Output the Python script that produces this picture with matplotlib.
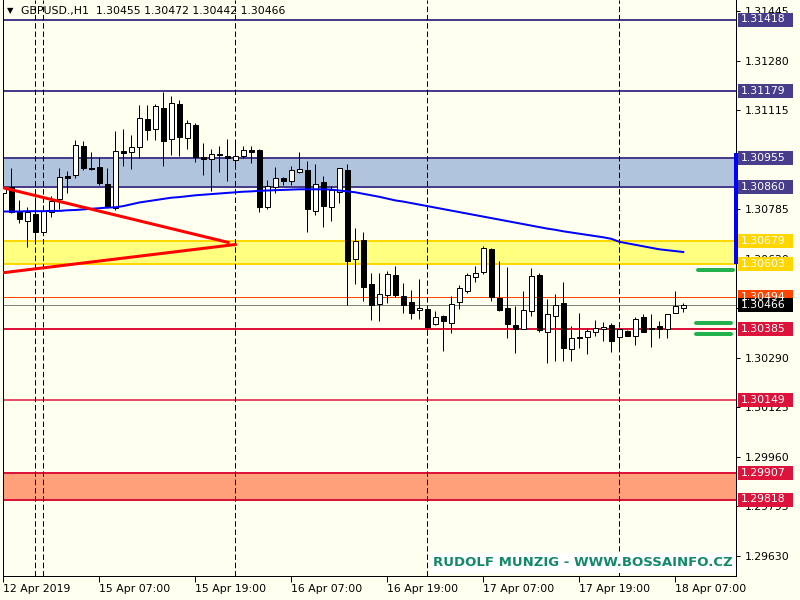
import matplotlib
matplotlib.use("Agg")
import matplotlib.pyplot as plt
import matplotlib.transforms as mtransforms
from matplotlib.patches import Rectangle

# ---------------- data ----------------
chart_title = "GBPUSD.,H1  1.30455 1.30472 1.30442 1.30466"

opens = [1.30839, 1.30861, 1.30776, 1.30748, 1.30770, 1.30711, 1.30778, 1.30819, 1.30897, 1.30899,
         1.30996, 1.30923, 1.30926, 1.30870, 1.30789, 1.30978, 1.30976, 1.30994, 1.31087, 1.31052,
         1.31122, 1.31019, 1.31137, 1.31022, 1.31067, 1.30960, 1.30953, 1.30969, 1.30963, 1.30949,
         1.30964, 1.30982, 1.30983, 1.30792, 1.30861, 1.30889, 1.30879, 1.30909, 1.30917, 1.30781,
         1.30876, 1.30794, 1.30844, 1.30917, 1.30621, 1.30683, 1.30536, 1.30469, 1.30498, 1.30566,
         1.30497, 1.30477, 1.30449, 1.30453, 1.30402, 1.30430, 1.30408, 1.30476, 1.30513, 1.30561,
         1.30578, 1.30653, 1.30489, 1.30456, 1.30399, 1.30386, 1.30447, 1.30567, 1.30378, 1.30431,
         1.30473, 1.30319, 1.30360, 1.30359, 1.30376, 1.30386, 1.30400, 1.30359, 1.30380, 1.30364,
         1.30426, 1.30389, 1.30397, 1.30386, 1.30439, 1.30455]
highs = [1.30919, 1.30924, 1.30817, 1.30792, 1.30822, 1.30800, 1.30828, 1.30924, 1.30913, 1.31017,
         1.31013, 1.30976, 1.30959, 1.30923, 1.31047, 1.31054, 1.31033, 1.31133, 1.31133, 1.31137,
         1.31178, 1.31163, 1.31150, 1.31083, 1.31072, 1.31006, 1.30987, 1.30997, 1.31020, 1.31017,
         1.30997, 1.30997, 1.30987, 1.30883, 1.30926, 1.30894, 1.30928, 1.30976, 1.30947, 1.30937,
         1.30897, 1.30863, 1.30923, 1.30937, 1.30722, 1.30709, 1.30572, 1.30572, 1.30580, 1.30597,
         1.30539, 1.30517, 1.30552, 1.30453, 1.30447, 1.30432, 1.30497, 1.30533, 1.30572, 1.30597,
         1.30664, 1.30656, 1.30613, 1.30594, 1.30463, 1.30513, 1.30591, 1.30574, 1.30487, 1.30503,
         1.30542, 1.30398, 1.30439, 1.30391, 1.30417, 1.30410, 1.30406, 1.30392, 1.30383, 1.30426,
         1.30436, 1.30436, 1.30414, 1.30437, 1.30513, 1.30472]
lows = [1.30761, 1.30774, 1.30739, 1.30658, 1.30669, 1.30709, 1.30759, 1.30787, 1.30841, 1.30891,
        1.30917, 1.30917, 1.30867, 1.30789, 1.30783, 1.30928, 1.30919, 1.30958, 1.31017, 1.31017,
        1.30928, 1.30967, 1.30964, 1.30987, 1.30942, 1.30898, 1.30847, 1.30911, 1.30878, 1.30933,
        1.30958, 1.30941, 1.30778, 1.30787, 1.30839, 1.30867, 1.30867, 1.30906, 1.30711, 1.30767,
        1.30728, 1.30747, 1.30808, 1.30467, 1.30537, 1.30478, 1.30417, 1.30413, 1.30474, 1.30494,
        1.30439, 1.30420, 1.30419, 1.30372, 1.30400, 1.30314, 1.30374, 1.30453, 1.30506, 1.30544,
        1.30570, 1.30478, 1.30447, 1.30358, 1.30308, 1.30386, 1.30428, 1.30378, 1.30274, 1.30278,
        1.30278, 1.30278, 1.30324, 1.30302, 1.30363, 1.30347, 1.30311, 1.30328, 1.30364, 1.30333,
        1.30377, 1.30328, 1.30356, 1.30358, 1.30439, 1.30442]
closes = [1.30861, 1.30778, 1.30753, 1.30776, 1.30708, 1.30778, 1.30814, 1.30894, 1.30891, 1.30999,
          1.30924, 1.30921, 1.30874, 1.30792, 1.30979, 1.30974, 1.30992, 1.31089, 1.31048, 1.31130,
          1.31014, 1.31139, 1.31028, 1.31072, 1.30961, 1.30953, 1.30969, 1.30967, 1.30958, 1.30963,
          1.30982, 1.30978, 1.30792, 1.30862, 1.30889, 1.30881, 1.30917, 1.30919, 1.30788, 1.30870,
          1.30798, 1.30850, 1.30922, 1.30614, 1.30680, 1.30528, 1.30467, 1.30502, 1.30569, 1.30500,
          1.30467, 1.30439, 1.30456, 1.30394, 1.30426, 1.30414, 1.30469, 1.30522, 1.30567, 1.30572,
          1.30656, 1.30494, 1.30448, 1.30403, 1.30388, 1.30450, 1.30563, 1.30383, 1.30436, 1.30466,
          1.30324, 1.30356, 1.30358, 1.30380, 1.30389, 1.30392, 1.30348, 1.30386, 1.30364, 1.30419,
          1.30378, 1.30387, 1.30386, 1.30436, 1.30462, 1.30466]
ma_values = [1.30778, 1.30778, 1.30778, 1.30779, 1.30779, 1.30779, 1.30780, 1.30780, 1.30782, 1.30783,
             1.30785, 1.30787, 1.30789, 1.30791, 1.30792, 1.30796, 1.30802, 1.30808, 1.30812, 1.30816,
             1.30820, 1.30824, 1.30826, 1.30829, 1.30832, 1.30834, 1.30836, 1.30838, 1.30840, 1.30842,
             1.30844, 1.30845, 1.30847, 1.30848, 1.30849, 1.30850, 1.30851, 1.30852, 1.30852, 1.30852,
             1.30852, 1.30851, 1.30848, 1.30845, 1.30842, 1.30837, 1.30832, 1.30827, 1.30821, 1.30815,
             1.30811, 1.30806, 1.30801, 1.30796, 1.30791, 1.30786, 1.30781, 1.30776, 1.30771, 1.30766,
             1.30761, 1.30756, 1.30751, 1.30746, 1.30741, 1.30736, 1.30731, 1.30726, 1.30721, 1.30717,
             1.30712, 1.30708, 1.30704, 1.30700, 1.30696, 1.30692, 1.30687, 1.30677, 1.30672, 1.30667,
             1.30662, 1.30657, 1.30652, 1.30649, 1.30646, 1.30643]

separator_bars = [4, 5, 29, 53, 77]
x_tick_bars = [0, 12, 24, 36, 48, 60, 72, 84]
x_tick_labels = ["12 Apr 2019", "15 Apr 07:00", "15 Apr 19:00", "16 Apr 07:00",
                 "16 Apr 19:00", "17 Apr 07:00", "17 Apr 19:00", "18 Apr 07:00"]
y_tick_values = [1.31445, 1.31280, 1.31115, 1.30950, 1.30785, 1.30620,
                 1.30455, 1.30290, 1.30125, 1.29960, 1.29795, 1.29630]
y_tick_labels = ["1.31445", "1.31280", "1.31115", "", "1.30785", "1.30620",
                 "1.30455", "1.30290", "1.30125", "1.29960", "1.29795", "1.29630"]

navy_levels = [1.31418, 1.31179]
blue_zone = [1.30860, 1.30955]
yellow_zone = [1.30603, 1.30679]
ask_level = 1.30494
bid_level = 1.30466
crimson_levels = [1.30385, 1.30149]
salmon_zone = [1.29818, 1.29907]

trend_down_bars = [0.0, 28.1]
trend_down_prices = [1.30857, 1.30675]
trend_up_bars = [0.0, 29.0]
trend_up_prices = [1.30574, 1.30668]

target_prices = [1.30582, 1.30406, 1.30369]
target_bar_start = [86.8, 86.6, 86.6]
target_bar_end = [91.2, 91.0, 91.0]
range_bar_x = 91.6
range_bar_prices = [1.30611, 1.30967]

price_labels = [
    (1.31418, "#483D8B"), (1.31179, "#483D8B"), (1.30955, "#483D8B"), (1.30860, "#483D8B"),
    (1.30679, "#FFD700"), (1.30603, "#FFD700"), (1.30494, "#FF4500"), (1.30466, "#000000"),
    (1.30385, "#DC143C"), (1.30149, "#DC143C"), (1.29907, "#DC143C"), (1.29818, "#DC143C"),
]
watermark = "RUDOLF MUNZIG - WWW.BOSSAINFO.CZ"

# ---------------- style ----------------
W, H = 800, 600
PX = 0.72  # points per pixel at dpi 100
FS = 7.8
BG = "#FFFFF0"
plt.rcParams["font.family"] = ["DejaVu Sans"]

fig = plt.figure(figsize=(8, 6), dpi=100, facecolor=BG)
ax = fig.add_axes([3 / W, 24 / H, 733 / W, 576 / H])
ax.set_facecolor(BG)

ymin, ymax = 1.29563, 1.31483
xmin, xmax = -0.0375, 91.59

# zones
for lo, hi, fc, ec in [(blue_zone[0], blue_zone[1], "#B0C4DE", "#483D8B"),
                       (yellow_zone[0], yellow_zone[1], "#FFFF80", "#FFD700"),
                       (salmon_zone[0], salmon_zone[1], "#FFA07A", "#DC143C")]:
    ax.axhspan(lo, hi, facecolor=fc, edgecolor="none", zorder=0.5)
    ax.axhline(lo, color=ec, lw=2 * PX, zorder=1)
    ax.axhline(hi, color=ec, lw=2 * PX, zorder=1)

for lv in navy_levels:
    ax.axhline(lv, color="#483D8B", lw=2 * PX, zorder=1)
ax.axhline(crimson_levels[0], color="#DC143C", lw=2 * PX, zorder=1)
ax.axhline(crimson_levels[1], color="#DC143C", lw=1.5 * PX, zorder=1)
ax.axhline(ask_level, color="#FF4500", lw=1 * PX, zorder=1)
ax.axhline(bid_level, color="#808080", lw=1 * PX, zorder=1)

for b in separator_bars:
    ax.axvline(b, color="black", lw=1 * PX, linestyle=(0, (5.5, 2.8)), zorder=1.2)

# candles
n = len(opens)
xs = list(range(n))
ax.vlines(xs, lows, highs, color="black", lw=1 * PX, zorder=3)
bottoms = [min(o, c) for o, c in zip(opens, closes)]
heights = [abs(c - o) for o, c in zip(opens, closes)]
colors = ["white" if c > o else "black" for o, c in zip(opens, closes)]
ax.bar(xs, heights, width=0.6, bottom=bottoms, color=colors, edgecolor="black",
       linewidth=1 * PX, zorder=3.1)

# moving average
ax.plot(xs, ma_values, color="#0000FF", lw=2 * PX, zorder=4)

# trend lines
ax.plot(trend_down_bars, trend_down_prices, color="#FF0000", lw=3 * PX, zorder=4.5)
ax.plot(trend_up_bars, trend_up_prices, color="#FF0000", lw=3 * PX, zorder=4.5)

# targets
for p, a, b in zip(target_prices, target_bar_start, target_bar_end):
    ax.plot([a, b], [p, p], color="#22B14C", lw=4 * PX, solid_capstyle="round", zorder=5,
            clip_on=False)
ax.plot([range_bar_x, range_bar_x], range_bar_prices, color="#0000FF", lw=4 * PX,
        zorder=9, clip_on=False)

ax.set_xlim(xmin, xmax)
ax.set_ylim(ymin, ymax)

# axes styling
ax.spines["top"].set_visible(False)
for s in ["left", "right", "bottom"]:
    ax.spines[s].set_linewidth(1 * PX)
    ax.spines[s].set_color("black")

ax.yaxis.tick_right()
ax.set_yticks(y_tick_values)
ax.set_yticklabels(y_tick_labels)
ax.tick_params(axis="y", direction="out", length=3, width=1 * PX, pad=3, labelsize=FS,
               colors="black")
ax.set_xticks(x_tick_bars)
ax.set_xticklabels(x_tick_labels)
for lbl in ax.get_xticklabels():
    lbl.set_horizontalalignment("left")
ax.tick_params(axis="x", direction="out", length=4, width=1 * PX, pad=2, labelsize=FS,
               colors="black")

# price labels on right axis
trans = mtransforms.blended_transform_factory(fig.transFigure, ax.transData)
box_h = 14 / 30000
for p, bg in price_labels:
    r = Rectangle((738 / W, p - box_h / 2), 55 / W, box_h, transform=trans, facecolor=bg,
                  edgecolor="none", clip_on=False, zorder=10)
    ax.add_artist(r)
    ax.text(741 / W, p, f"{p:.5f}", transform=trans, color="white", fontsize=FS,
            va="center", ha="left", zorder=11, clip_on=False)

# title
fig.text(7 / W, 1 - 11 / H, "\u25BC", fontsize=6, va="center", ha="left", color="black")
fig.text(21 / W, 1 - 11 / H, chart_title, fontsize=FS, va="center", ha="left", color="black")

# watermark
fig.text(583 / W, 1 - 563 / H, watermark, fontsize=9.5, fontweight="bold", color="#13896A",
         ha="center", va="center",
         bbox=dict(facecolor="white", edgecolor="none", boxstyle="square,pad=0.25"))

fig.savefig("out.png", dpi=100, facecolor=BG)
